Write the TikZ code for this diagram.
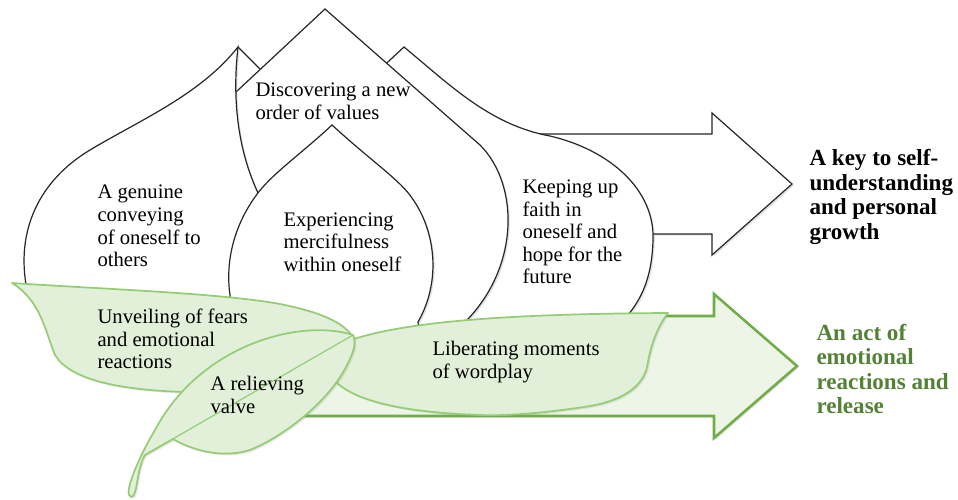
\documentclass[tikz,border=0pt]{standalone}
\usepackage{fontspec}
\setmainfont{Liberation Serif}
\usetikzlibrary{shadows}

\tikzset{every picture/.style={line width=0.75pt}}
\tikzset{
  petal/.style={draw={rgb, 255:red, 38; green, 38; blue, 38}, fill=white, line width=0.9pt,
    drop shadow={opacity=0.22, shadow xshift=1.3pt, shadow yshift=-1.3pt}},
  leaf/.style={draw={rgb, 255:red, 150; green, 204; blue, 118}, fill={rgb, 255:red, 226; green, 240; blue, 217},
    line width=1.3pt, line join=round, drop shadow={opacity=0.18, shadow xshift=1.3pt, shadow yshift=-1.3pt}},
  vein/.style={draw={rgb, 255:red, 150; green, 204; blue, 118}, line width=0.9pt},
  flow/.style={draw={rgb, 255:red, 112; green, 173; blue, 71}, fill={rgb, 255:red, 236; green, 245; blue, 230},
    line width=1.9pt, drop shadow={opacity=0.22, shadow xshift=1.3pt, shadow yshift=-1.3pt}},
  petaltext/.style={inner sep=0pt, anchor=west, align=left, font=\fontsize{15.5}{16.9}\selectfont},
  outtext/.style={inner sep=0pt, anchor=west, align=left, font=\fontsize{17.3}{18.4}\selectfont\bfseries},
}

\begin{document}
\begin{tikzpicture}[x=0.75pt,y=0.75pt,yscale=-1,xscale=1]
	\useasboundingbox (0,0) rectangle (958,500);

	%Shape: Right Arrow [id:growth]
	\draw [petal, line join=miter] (520,134) -- (712,134) -- (712,113) -- (792,184) -- (712,255) -- (712,234) -- (520,234) -- cycle ;
	%Shape: Right Arrow [id:release]
	\draw [flow] (290,316) -- (714,316) -- (714,294) -- (797,366) -- (714,438) -- (714,416) -- (290,416) -- cycle ;

	%Straight Lines [id:behind]
	\draw [draw={rgb, 255:red, 38; green, 38; blue, 38}, line width=0.9pt] (238,47) -- (270,79) ;
	%Shape: Drop [id:faith]
	\draw [petal] (404,47) .. controls (450,85) and (490,125) .. (550,136) .. controls (610,150) and (655,190) .. (653,240) .. controls (652,280) and (640,300) .. (628,315) -- (625,332) -- (470,332) -- (440,200) -- (362,86) -- cycle ;
	%Shape: Drop [id:values]
	\draw [petal] (325,9) .. controls (400,75) and (440,110) .. (480,145) .. controls (520,185) and (520,270) .. (462,325) -- (465,335) -- (300,335) -- (245,250) -- (225,150) -- (236,92) -- cycle ;
	%Shape: Drop [id:conveying]
	\draw [petal] (238,47) .. controls (200,95) and (140,120) .. (90,150) .. controls (40,180) and (15,230) .. (27,290) -- (60,305) -- (250,312) .. controls (268,260) and (268,215) .. (258,193) .. controls (238,150) and (232,100) .. (238,47) -- cycle ;
	%Shape: Drop [id:mercy]
	\draw [petal] (332,125) .. controls (370,160) and (400,180) .. (412,198) .. controls (435,230) and (442,280) .. (418,322) -- (420,340) -- (355,348) -- (300,330) -- (230,305) -- (230,295) .. controls (225,260) and (235,225) .. (255,197) .. controls (270,175) and (300,155) .. (332,125) -- cycle ;

	%Shape: Leaf [id:wordplay]
	\draw [leaf] (345,342) .. controls (400,322) and (500,314) .. (668,313) .. controls (655,330) and (650,350) .. (647,367) .. controls (643,385) and (625,400) .. (590,406) .. controls (540,414) and (500,416) .. (480,415) .. controls (420,413) and (360,405) .. (336,382) -- cycle ;
	%Shape: Leaf [id:fears]
	\draw [leaf] (12,283) .. controls (100,289) and (220,293) .. (280,304) .. controls (320,312) and (343,322) .. (353,337) .. controls (330,375) and (260,395) .. (185,392) .. controls (120,390) and (70,380) .. (55,355) .. controls (45,330) and (40,300) .. (12,283) -- cycle ;
	%Shape: Leaf [id:valve]
	\draw [leaf] (353,335) .. controls (300,318) and (200,345) .. (155,430) .. controls (140,455) and (122,495) .. (131,497) .. controls (138,497) and (136,470) .. (145,455) -- (173,439) .. controls (195,452) and (225,458) .. (250,450) .. controls (285,436) and (330,400) .. (347,365) .. controls (355,350) and (356,342) .. (353,335) -- cycle ;
	%Straight Lines [id:midrib]
	\draw [vein] (145,455) -- (353,335) ;

	% Text Node
	\node [petaltext] (discover) at (255,101) {Discovering a new\\order of values};
	% Text Node
	\node [petaltext] (genuine) at (97,226) {A genuine\\conveying\\of oneself to\\others};
	% Text Node
	\node [petaltext] (mercy) at (283,242) {Experiencing\\mercifulness\\within oneself};
	% Text Node
	\node [petaltext] (faith) at (522,232) {Keeping up\\faith in\\oneself and\\hope for the\\future};
	% Text Node
	\node [petaltext] (unveil) at (97,339) {Unveiling of fears\\and emotional\\reactions};
	% Text Node
	\node [petaltext] (relief) at (210,395) {A relieving\\valve};
	% Text Node
	\node [petaltext] (wordplay) at (432,362) {Liberating moments\\of wordplay};
	% Text Node
	\node [outtext] (selfkey) at (809,197) {A key to self-\\understanding\\and personal\\growth};
	% Text Node
	\node [outtext, text={rgb, 255:red, 84; green, 130; blue, 53}] (emoact) at (816,369) {An act of\\emotional\\reactions and\\release};

\end{tikzpicture}
\end{document}
